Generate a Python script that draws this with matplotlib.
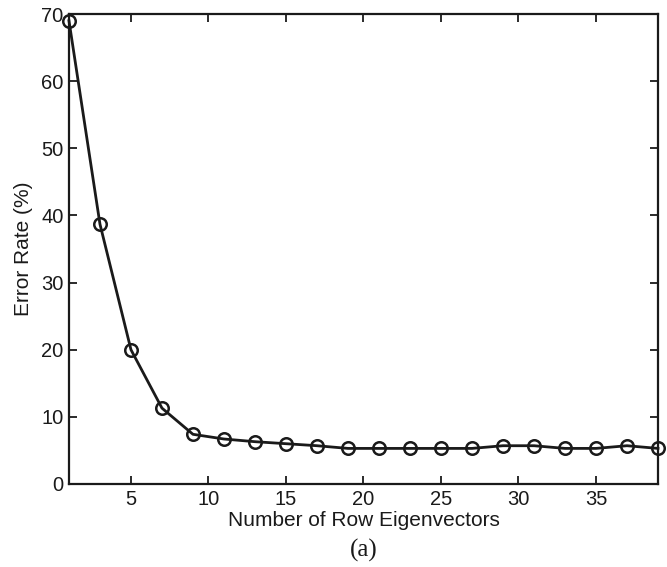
import matplotlib
matplotlib.use("Agg")
import matplotlib.pyplot as plt

# Error rate versus number of row eigenvectors
num_eigenvectors = [1, 3, 5, 7, 9, 11, 13, 15, 17, 19, 21, 23, 25, 27, 29, 31, 33, 35, 37, 39]
error_rate = [69.0, 38.7, 20.0, 11.3, 7.4, 6.7, 6.3, 6.0, 5.7, 5.3, 5.3, 5.3, 5.3, 5.3,
              5.7, 5.7, 5.3, 5.3, 5.7, 5.3]
x_ticks = [5, 10, 15, 20, 25, 30, 35]
y_ticks = [0, 10, 20, 30, 40, 50, 60, 70]

plt.rcParams['font.family'] = ['Liberation Sans', 'DejaVu Sans']

fig = plt.figure(figsize=(6.67, 5.67), dpi=100)
ax = fig.add_axes([0.1034, 0.1464, 0.8831, 0.8289])

ax.plot(num_eigenvectors, error_rate, color='#1a1a1a', linewidth=2.0,
        marker='o', markersize=9, markerfacecolor='none',
        markeredgecolor='#1a1a1a', markeredgewidth=1.8, clip_on=False, zorder=3)

ax.set_xlim(1, 39)
ax.set_ylim(0, 70)
ax.set_xticks(x_ticks)
ax.set_yticks(y_ticks)
ax.tick_params(direction='in', length=6, width=1.3, top=True, right=True,
               labelsize=14.5, colors='#1a1a1a', pad=4)
for s in ax.spines.values():
    s.set_linewidth(1.6)
    s.set_color('#1a1a1a')

ax.set_xlabel('Number of Row Eigenvectors', fontsize=15, color='#1a1a1a', labelpad=2)
ax.set_ylabel('Error Rate (%)', fontsize=15, color='#1a1a1a', labelpad=6)

fig.text(0.545, 0.030, '(a)', ha='center', va='center', fontsize=18,
         family=['Liberation Serif', 'DejaVu Serif'], color='#1a1a1a')

fig.savefig('out.png', dpi=100)
